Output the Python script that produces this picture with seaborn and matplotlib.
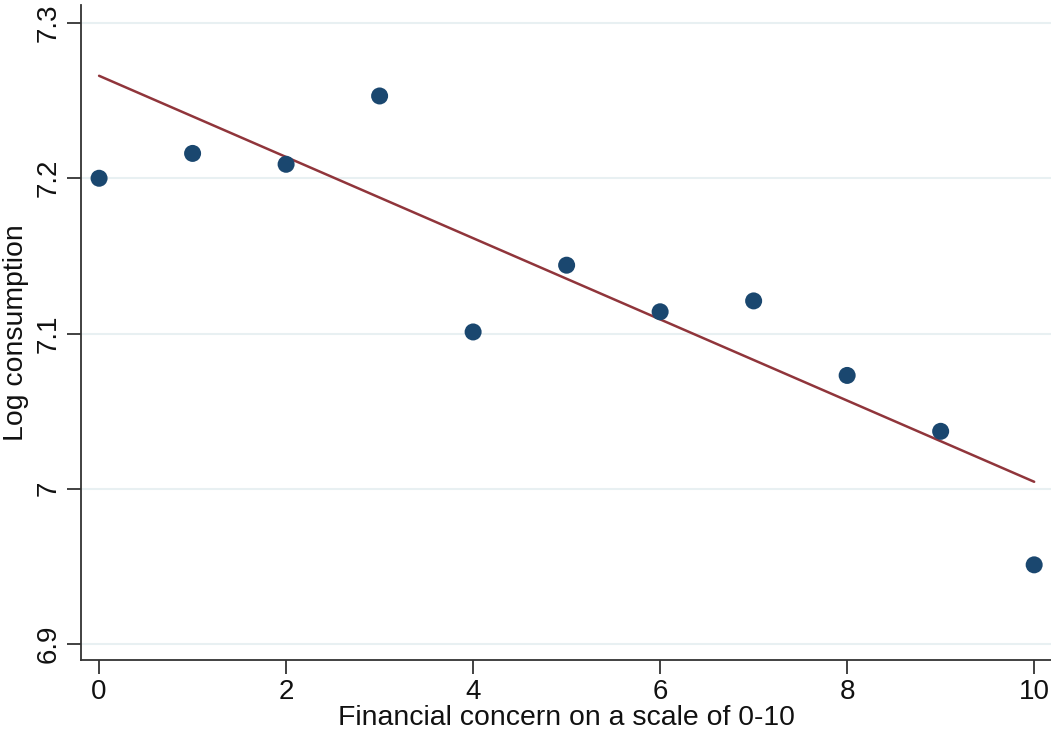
import numpy as np
import pandas as pd
import matplotlib
matplotlib.use('Agg')
import matplotlib.pyplot as plt
import seaborn as sns

# Binned means
concern = [0, 1, 2, 3, 4, 5, 6, 7, 8, 9, 10]
log_cons = [7.200, 7.216, 7.209, 7.253, 7.101, 7.144, 7.114, 7.121, 7.073, 7.037, 6.951]

# Fitted line (intercept / slope)
fit_intercept = 7.266
fit_slope = -0.02615

y_ticks = [6.9, 7.0, 7.1, 7.2, 7.3]
y_tick_labels = ['6.9', '7', '7.1', '7.2', '7.3']
x_ticks = [0, 2, 4, 6, 8, 10]

df = pd.DataFrame({'concern': concern, 'log_cons': log_cons})

sns.set_style('white')
plt.rcParams['font.family'] = ['Liberation Sans', 'DejaVu Sans']
plt.rcParams['text.color'] = '#111111'
plt.rcParams['axes.labelcolor'] = '#111111'
plt.rcParams['xtick.color'] = '#111111'
plt.rcParams['ytick.color'] = '#111111'

fig = plt.figure(figsize=(10.51, 7.34), dpi=100)
ax = fig.add_axes([0.0771, 0.1008, 0.9229, 0.8924])

# light grid lines
for yt in y_ticks:
    ax.axhline(yt, color='#e8f0f2', lw=1.5, zorder=0)

xs = np.array([concern[0], concern[-1]])
sns.lineplot(x=xs, y=fit_intercept + fit_slope * xs, color='#90353b', lw=1.8, ax=ax, zorder=2)
sns.scatterplot(data=df, x='concern', y='log_cons', color='#1a476f', s=150,
                edgecolor='none', ax=ax, zorder=3)

ax.set_xlim(-0.193, 10.18)
ax.set_ylim(6.8897, 7.3116)
ax.set_xticks(x_ticks)
ax.set_yticks(y_ticks)
ax.set_yticklabels(y_tick_labels, rotation=90, va='center')
ax.tick_params(axis='both', direction='out', length=10, width=1.3, color='#333333',
               labelsize=20, pad=4, left=True, bottom=True)

ax.set_xlabel('Financial concern on a scale of 0-10', fontsize=20.4, labelpad=0)
ax.set_ylabel('Log consumption', fontsize=20.4, labelpad=5)

for side in ['top', 'right']:
    ax.spines[side].set_visible(False)
for side in ['left', 'bottom']:
    ax.spines[side].set_color('#333333')
    ax.spines[side].set_linewidth(1.3)

fig.savefig('out.png', dpi=100)
